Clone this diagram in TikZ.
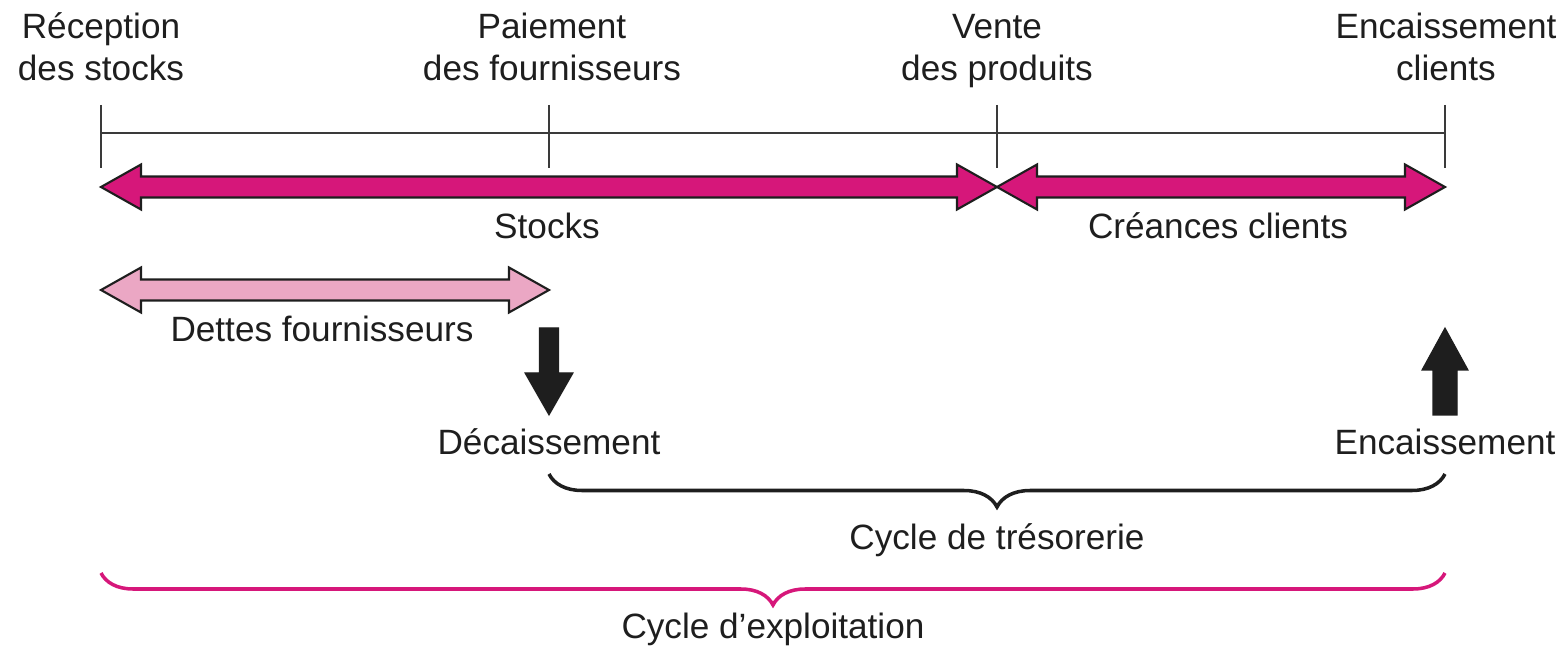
\documentclass[tikz,border=0pt]{standalone}
\usepackage{fontspec}
\setmainfont{Liberation Sans}
\usetikzlibrary{calc,decorations.pathreplacing}
\definecolor{mag}{HTML}{D6177A}
\definecolor{lpink}{HTML}{EBA7C4}
\definecolor{ink}{HTML}{1E1E1E}
\definecolor{rule}{HTML}{3A3A3A}
\newcommand\dblarrow[3]{%
  \filldraw[fill=#3, draw=ink, line width=0.6pt, line join=miter]
    (#1) -- ++(40,-22.5) -- ++(0,12) -- ($(#2)+(-40,-10.5)$) -- ++(0,-12) -- (#2)
    -- ++(-40,22.5) -- ++(0,-12) -- ($(#1)+(40,10.5)$) -- ++(0,12) -- cycle;}
\begin{document}
\begin{tikzpicture}[x=0.01cm,y=-0.01cm,
  font=\fontsize{10}{12.2}\selectfont,
  lbl/.style={align=center, inner sep=0pt, text=ink, anchor=base},
  tick/.style={draw=rule, line width=0.6pt},
  bigarrow/.style={fill=ink, draw=ink, line width=0.3pt},
  bracedeco/.style={decorate, decoration={brace, mirror, amplitude=#1}, line width=1pt}]
\useasboundingbox (0,0) rectangle (1565,646);
% timeline points
\coordinate (r) at (101,133);
\coordinate (p) at (549,133);
\coordinate (v) at (997,133);
\coordinate (e) at (1445,133);
\draw[tick] (r) -- (e);
\foreach \c in {r,p,v,e} \draw[tick] ($(\c)+(0,-28)$) -- ($(\c)+(0,35)$);
% labels top (base = baseline of last line)
\node[lbl] (lr) at (101,81) {Réception\\des stocks};
\node[lbl] (lp) at (552,81) {Paiement\\des fournisseurs};
\node[lbl] (lv) at (997,81) {Vente\\des produits};
\node[lbl] (le) at (1446,81) {Encaissement\\clients};
% magenta arrows
\coordinate (s1) at (101,187);
\coordinate (s2) at (997,187);
\coordinate (s3) at (1445,187);
\dblarrow{s1}{s2}{mag}
\dblarrow{s2}{s3}{mag}
\node[lbl] (stocks) at (547,238.5) {Stocks};
\node[lbl] (creances) at (1218,238.5) {Créances clients};
% dettes
\coordinate (d1) at (101,290);
\coordinate (d2) at (549,290);
\dblarrow{d1}{d2}{lpink}
\node[lbl] (dettes) at (322,341.5) {Dettes fournisseurs};
% black arrows
\coordinate (dtip) at (549,415);
\coordinate (utip) at (1445,328);
\filldraw[bigarrow] (dtip) -- ++(24,-42) -- ++(-14.5,0) -- ++(0,-45) -- ++(-19,0) -- ++(0,45) -- ++(-14.5,0) -- cycle;
\filldraw[bigarrow] (utip) -- ++(23,42) -- ++(-11,0) -- ++(0,45) -- ++(-24,0) -- ++(0,-45) -- ++(-11,0) -- cycle;
\node[lbl] (dec) at (549,455) {Décaissement};
\node[lbl] (enc) at (1445,455) {Encaissement};
% braces
\coordinate (b1) at (549,474);
\coordinate (b2) at (1445,474);
\draw[bracedeco=0.33cm, draw=ink] (b1) -- (b2);
\node[lbl] (tres) at (997,549.5) {Cycle de trésorerie};
\coordinate (c1) at (101,573);
\coordinate (c2) at (1445,573);
\draw[bracedeco=0.32cm, draw=mag] (c1) -- (c2);
\node[lbl] (expl) at (773,638.5) {Cycle d’exploitation};
\end{tikzpicture}
\end{document}
